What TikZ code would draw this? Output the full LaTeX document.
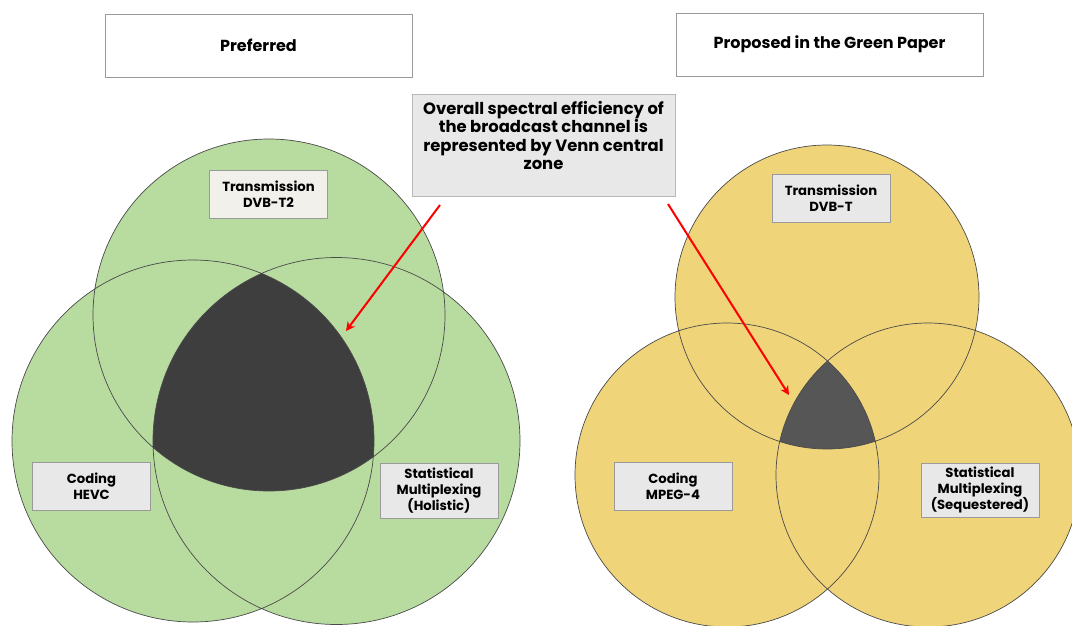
\documentclass[tikz,border=0pt]{standalone}
\usepackage{fontspec}
\setmainfont{Poppins}[BoldFont={Poppins Bold}]
\usetikzlibrary{arrows.meta}
\definecolor{venngreen}{HTML}{B8DB9F}
\definecolor{vennyellow}{HTML}{F0D47A}
\definecolor{coredarkA}{HTML}{3E3E3E}
\definecolor{coredarkB}{HTML}{565656}
\definecolor{boxgray}{HTML}{E8E8E8}
\definecolor{boxcream}{HTML}{F2F0EA}
\definecolor{edgegray}{HTML}{9A9A9A}
\definecolor{ringline}{HTML}{4A4A4A}
\begin{document}
\begin{tikzpicture}[x=1pt,y=-1pt,
  header/.style={draw=edgegray, line width=1pt, fill=white, minimum width=307, minimum height=63,
    font=\fontsize{16}{18}\selectfont\bfseries, inner sep=0pt},
  tag/.style={draw=edgegray, line width=0.8pt, fill=boxgray, minimum width=118, minimum height=48,
    align=center, font=\fontsize{13.2}{16.2}\selectfont\bfseries, inner sep=1pt},
  note/.style={draw=edgegray!70, line width=0.8pt, fill=boxgray, minimum width=263, minimum height=102,
    align=center, font=\fontsize{16.4}{18.3}\selectfont\bfseries, inner sep=1pt},
  ring/.style={draw=ringline, line width=0.7pt},
  pointer/.style={draw=red, line width=2pt, -{Stealth[length=9pt,width=9pt]}}]
\useasboundingbox (0,0) rectangle (1072,625);

% ---- left diagram: three overlapping circles ----
\coordinate (LA) at (269,315);
\coordinate (LB) at (193,441);
\coordinate (LC) at (336.5,441);
\def\rLA{176pt}
\def\rLB{181pt}
\def\rLC{183.5pt}
\fill[venngreen] (LA) circle (\rLA) (LB) circle (\rLB) (LC) circle (\rLC);
\begin{scope}
  \clip (LA) circle (\rLA);
  \clip (LB) circle (\rLB);
  \fill[coredarkA] (LC) circle (\rLC);
\end{scope}
\draw[ring] (LA) circle (\rLA) (LB) circle (\rLB) (LC) circle (\rLC);

% ---- right diagram: three overlapping circles ----
\coordinate (RA) at (827,297);
\coordinate (RB) at (727,475);
\coordinate (RC) at (928,475);
\def\rR{152pt}
\fill[vennyellow] (RA) circle (\rR) (RB) circle (\rR) (RC) circle (\rR);
\begin{scope}
  \clip (RA) circle (\rR);
  \clip (RB) circle (\rR);
  \fill[coredarkB] (RC) circle (\rR);
\end{scope}
\draw[ring] (RA) circle (\rR) (RB) circle (\rR) (RC) circle (\rR);

% ---- headings ----
\node[header] (hL) at (258.5,45.5) {Preferred};
\node[header] (hR) at (829.5,44.5) {Proposed in the Green Paper};

% ---- central note (text sits in the upper part of the box) ----
\node[note] (nt) at (543.5,145) {Overall spectral efficiency of\\the broadcast channel is\\represented by Venn central\\zone\rule[-19pt]{0pt}{1pt}};

% ---- labels of the left diagram ----
\node[tag, fill=boxcream] (tL1) at (268.5,194) {Transmission\\DVB-T2};
\node[tag] (tL2) at (91.5,486) {Coding\\HEVC};
\node[tag, minimum height=55] (tL3) at (439,490.5) {Statistical\\Multiplexing\\(Holistic)};

% ---- labels of the right diagram ----
\node[tag] (tR1) at (831,198) {Transmission\\DVB-T};
\node[tag] (tR2) at (673,486) {Coding\\MPEG-4};
\node[tag, minimum height=54] (tR3) at (980,490) {Statistical\\Multiplexing\\(Sequestered)};

% ---- pointers to the central zones ----
\coordinate (pLs) at (440,205);
\coordinate (pLe) at (346,331);
\coordinate (pRs) at (668,204);
\coordinate (pRe) at (789,395);
\draw[pointer] (pLs) -- (pLe);
\draw[pointer] (pRs) -- (pRe);
\end{tikzpicture}
\end{document}
